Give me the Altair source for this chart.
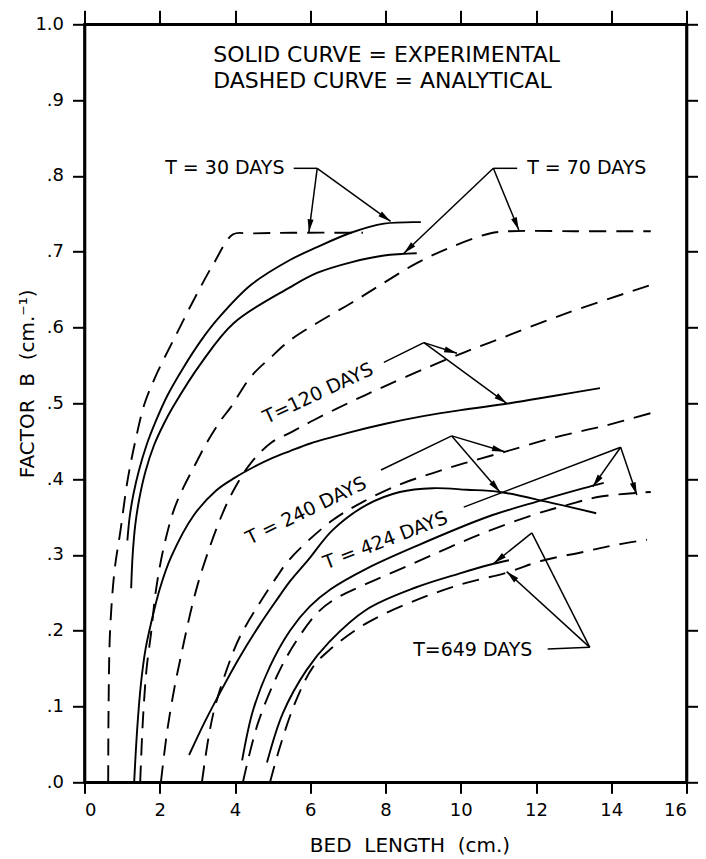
import math
import altair as alt
import pandas as pd

# ---------------- data ----------------
# Experimental (solid) curves
S30_x = [1.14, 1.2, 1.3, 1.45, 1.65, 1.9, 2.2, 2.64, 3.1, 3.52, 4.42, 5.46, 6.18, 7.08, 7.96, 8.94]
S30_y = [0.319, 0.35, 0.38, 0.412, 0.445, 0.477, 0.51, 0.548, 0.583, 0.61, 0.656, 0.689, 0.706, 0.725, 0.737, 0.739]

S70_x = [1.24, 1.28, 1.35, 1.46, 1.62, 1.85, 2.1, 2.35, 3.1, 3.97, 5.46, 6.18, 7.08, 7.96, 8.83]
S70_y = [0.256, 0.30, 0.34, 0.375, 0.41, 0.445, 0.472, 0.495, 0.553, 0.606, 0.653, 0.672, 0.686, 0.695, 0.698]

S120_x = [1.32, 1.4, 1.5, 1.62, 1.76, 2.0, 2.3, 2.9, 3.5, 4.0, 4.5, 5.0, 5.46, 6.0, 7.0, 8.0, 9.0, 10.0, 11.3, 12.5, 13.7]
S120_y = [0.0, 0.07, 0.13, 0.175, 0.208, 0.255, 0.297, 0.352, 0.385, 0.402, 0.416, 0.428, 0.437, 0.447, 0.461, 0.473, 0.483, 0.491, 0.50, 0.51, 0.52]

S240_x = [2.78, 3.2, 3.6, 4.1, 4.66, 5.1, 5.46, 5.94, 6.6, 7.5, 8.38, 9.26, 10.16, 11.04, 12.3, 13.6]
S240_y = [0.036, 0.08, 0.118, 0.163, 0.208, 0.24, 0.265, 0.293, 0.333, 0.366, 0.383, 0.388, 0.386, 0.383, 0.37, 0.355]

S424_x = [4.19, 4.48, 4.93, 5.46, 5.99, 6.55, 7.5, 8.83, 10.7, 12.0, 13.27, 13.8]
S424_y = [0.029, 0.095, 0.153, 0.2, 0.232, 0.255, 0.282, 0.312, 0.35, 0.37, 0.388, 0.395]

S649_x = [4.85, 5.27, 5.9, 6.5, 7.5, 8.8, 10.0, 10.77, 11.28]
S649_y = [0.026, 0.091, 0.148, 0.185, 0.228, 0.257, 0.276, 0.287, 0.293]

# Analytical (dashed) curves
D30_x = [0.63, 0.64, 0.68, 0.8, 0.95, 1.15, 1.35, 1.6, 1.93, 2.38, 2.91, 3.44, 3.95, 4.4, 5.5, 7.4]
D30_y = [0.0, 0.1, 0.2, 0.28, 0.33, 0.4, 0.45, 0.5, 0.54, 0.585, 0.637, 0.685, 0.723, 0.724, 0.725, 0.725]

D70_x = [1.48, 1.55, 1.65, 1.77, 1.9, 2.11, 2.38, 2.64, 2.91, 3.25, 3.63, 3.89, 4.42, 4.96, 5.46, 6.18, 7.08, 7.96, 8.83, 9.74, 10.77, 11.3, 13.0, 15.05]
D70_y = [0.0, 0.08, 0.15, 0.197, 0.254, 0.311, 0.36, 0.39, 0.416, 0.448, 0.478, 0.495, 0.535, 0.561, 0.583, 0.606, 0.632, 0.659, 0.685, 0.706, 0.724, 0.727, 0.727, 0.727]

D120_x = [2.03, 2.19, 2.38, 2.54, 2.88, 3.15, 3.63, 3.97, 4.42, 4.96, 5.5, 6.1, 7.08, 7.96, 9.1, 10.08, 10.77, 12.82, 15.05]
D120_y = [0.0, 0.065, 0.122, 0.161, 0.237, 0.284, 0.35, 0.386, 0.421, 0.448, 0.462, 0.478, 0.502, 0.522, 0.547, 0.567, 0.58, 0.619, 0.656]

D240_x = [3.12, 3.3, 3.47, 3.87, 4.13, 4.66, 5.11, 5.38, 5.8, 6.6, 7.4, 8.38, 9.26, 10.1, 11.17, 12.5, 13.8, 15.05]
D240_y = [0.0, 0.06, 0.10, 0.161, 0.192, 0.237, 0.271, 0.29, 0.312, 0.346, 0.37, 0.393, 0.408, 0.421, 0.436, 0.455, 0.47, 0.487]

D424_x = [4.21, 4.61, 5.19, 5.65, 6.18, 6.6, 7.5, 8.8, 9.7, 10.61, 11.94, 12.84, 13.72, 15.05]
D424_y = [0.0, 0.078, 0.148, 0.188, 0.223, 0.24, 0.262, 0.29, 0.31, 0.329, 0.353, 0.366, 0.377, 0.383]

D649_x = [4.93, 5.19, 5.59, 6.07, 6.52, 7.5, 8.8, 10.0, 11.25, 12.13, 13.27, 14.1, 14.95]
D649_y = [0.0, 0.046, 0.104, 0.152, 0.175, 0.21, 0.24, 0.261, 0.277, 0.292, 0.304, 0.313, 0.32]

# axis ticks
x_ticks = [0, 2, 4, 6, 8, 10, 12, 14, 16]
y_ticks = [round(i / 10, 1) for i in range(11)]

# annotation labels (text, x, y, rotation)
label_text = ["T = 30 DAYS", "T = 70 DAYS", "T=120 DAYS", "T = 240 DAYS", "T = 424 DAYS", "T=649 DAYS"]
label_x = [3.73, 13.35, 6.21, 5.89, 8.0, 10.32]
label_y = [0.81, 0.81, 0.513, 0.358, 0.319, 0.175]
label_angle = [0, 0, 335, 334, 339, 0]

note_text = ["SOLID CURVE = EXPERIMENTAL", "DASHED CURVE = ANALYTICAL"]
note_x = [3.42, 3.42]
note_y = [0.9595, 0.925]

# leader lines (x, y, x2, y2) without heads
lead_x = [5.56, 10.866, 7.957, 7.88, 10.08, 12.31, 13.43]
lead_y = [0.81, 0.81, 0.554, 0.412, 0.363, 0.176, 0.178]
lead_x2 = [6.185, 11.50, 9.02, 9.76, 14.25, 13.43, 11.89]
lead_y2 = [0.81, 0.81, 0.58, 0.457, 0.442, 0.178, 0.329]

# arrows (from vertex to tip) with heads
arr_x = [6.185, 6.185, 10.866, 10.866, 9.02, 9.02, 9.76, 9.76, 14.25, 14.25, 11.89, 13.43]
arr_y = [0.81, 0.81, 0.81, 0.81, 0.58, 0.58, 0.457, 0.457, 0.442, 0.442, 0.329, 0.178]
arr_x2 = [5.965, 8.135, 8.488, 11.543, 9.9, 11.22, 11.17, 11.04, 13.51, 14.68, 10.88, 11.22]
arr_y2 = [0.726, 0.740, 0.698, 0.7286, 0.566, 0.50, 0.436, 0.383, 0.39, 0.379, 0.289, 0.278]

# ---------------- build tables ----------------
W, H = 602, 758
X_MAX, Y_MAX = 16.0, 1.0

series = [
    ("S30", "solid", S30_x, S30_y), ("S70", "solid", S70_x, S70_y),
    ("S120", "solid", S120_x, S120_y), ("S240", "solid", S240_x, S240_y),
    ("S424", "solid", S424_x, S424_y), ("S649", "solid", S649_x, S649_y),
    ("D30", "dash", D30_x, D30_y), ("D70", "dash", D70_x, D70_y),
    ("D120", "dash", D120_x, D120_y), ("D240", "dash", D240_x, D240_y),
    ("D424", "dash", D424_x, D424_y), ("D649", "dash", D649_x, D649_y),
]
rows = []
for name, kind, xs, ys in series:
    for i, (a, b) in enumerate(zip(xs, ys)):
        rows.append({"series": name, "kind": kind, "x": a, "y": b, "i": i})
df = pd.DataFrame(rows)
df_solid = df[df.kind == "solid"]
df_dash = df[df.kind == "dash"]

segs = pd.DataFrame({"x": lead_x + arr_x, "y": lead_y + arr_y,
                     "x2": lead_x2 + arr_x2, "y2": lead_y2 + arr_y2})

sx, sy = W / X_MAX, H / Y_MAX
angles = []
for a, b, c, d in zip(arr_x, arr_y, arr_x2, arr_y2):
    ang = math.degrees(math.atan2((c - a) * sx, (d - b) * sy)) % 360
    angles.append(ang)
heads = pd.DataFrame({"x": arr_x2, "y": arr_y2, "angle": angles})

labels = pd.DataFrame({"text": label_text, "x": label_x, "y": label_y, "angle": label_angle})
notes = pd.DataFrame({"text": note_text, "x": note_x, "y": note_y})

FONT = "DejaVu Sans"
NB = "\u00a0"
xs_scale = alt.Scale(domain=[0, X_MAX], nice=False, zero=False)
ys_scale = alt.Scale(domain=[0, Y_MAX], nice=False, zero=False)

common_axis = dict(grid=False, tickColor="black", domainColor="black", domainWidth=2.6,
                   tickWidth=2, labelFont=FONT, labelFontSize=18, labelColor="black",
                   titleFont=FONT, titleFontSize=20, titleFontWeight="normal", titleColor="black")

x_title = "BED" + NB + NB + "LENGTH" + NB + NB + "(cm.)"
y_title = "FACTOR" + NB + NB + "B" + NB + NB + "(cm.\u207b\u00b9)"

x_bottom = alt.Axis(values=x_ticks, tickSize=11, labelPadding=8, orient="bottom",
                    title=x_title, titleX=325, titleY=63,
                    titleBaseline="middle", titleAlign="center", **common_axis)
y_left = alt.Axis(values=y_ticks, tickSize=12, labelPadding=9, orient="left",
                  labelExpr="datum.value == 1 ? '1.0' : replace(format(datum.value, '.1f'), '0.', '.')",
                  title=y_title, titleX=-57, titleY=359, titleAngle=270,
                  titleBaseline="middle", titleAlign="center", **common_axis)
x_top = alt.Axis(values=x_ticks, tickSize=14, labels=False, orient="top", title="", **common_axis)
y_right = alt.Axis(values=y_ticks, tickSize=11, labels=False, orient="right", title="", **common_axis)

solid = alt.Chart(df_solid).mark_line(color="black", strokeWidth=1.9, interpolate="catmull-rom").encode(
    x=alt.X("x:Q", scale=xs_scale, axis=x_bottom),
    y=alt.Y("y:Q", scale=ys_scale, axis=y_left),
    detail="series:N", order="i:Q")

dashed = alt.Chart(df_dash).mark_line(color="black", strokeWidth=1.9, strokeDash=[17, 10],
                                      interpolate="catmull-rom").encode(
    x=alt.X("x:Q", scale=xs_scale, axis=x_top),
    y=alt.Y("y:Q", scale=ys_scale, axis=y_right),
    detail="series:N", order="i:Q")

rules = alt.Chart(segs).mark_rule(color="black", strokeWidth=1.5).encode(
    x=alt.X("x:Q", scale=xs_scale, axis=None), y=alt.Y("y:Q", scale=ys_scale, axis=None),
    x2="x2:Q", y2="y2:Q")

arrowheads = alt.Chart(heads).mark_point(shape="M0,0L-0.375,1.6L0.375,1.6Z", filled=True,
                                         color="black", opacity=1, size=256, strokeWidth=0).encode(
    x=alt.X("x:Q", scale=xs_scale, axis=None), y=alt.Y("y:Q", scale=ys_scale, axis=None),
    angle=alt.Angle("angle:Q", scale=None))

label_layer = alt.Chart(labels).mark_text(font=FONT, fontSize=19, color="black",
                                          align="center", baseline="middle").encode(
    x=alt.X("x:Q", scale=xs_scale, axis=None), y=alt.Y("y:Q", scale=ys_scale, axis=None),
    text="text:N", angle=alt.Angle("angle:Q", scale=None))

note_layer = alt.Chart(notes).mark_text(font=FONT, fontSize=22, color="black",
                                        align="left", baseline="middle").encode(
    x=alt.X("x:Q", scale=xs_scale, axis=None), y=alt.Y("y:Q", scale=ys_scale, axis=None),
    text="text:N")

chart = alt.layer(solid, dashed, rules, arrowheads, label_layer, note_layer).resolve_axis(
    x="independent", y="independent"
).properties(
    width=W, height=H,
    padding={"left": 84.5, "top": 24.3, "right": 19, "bottom": 77},
    autosize=alt.AutoSizeParams(type="none"),
    background="white",
).configure_view(stroke="black", strokeWidth=2.6)

chart.save("out.html", embed_options={"renderer": "svg", "actions": False})
